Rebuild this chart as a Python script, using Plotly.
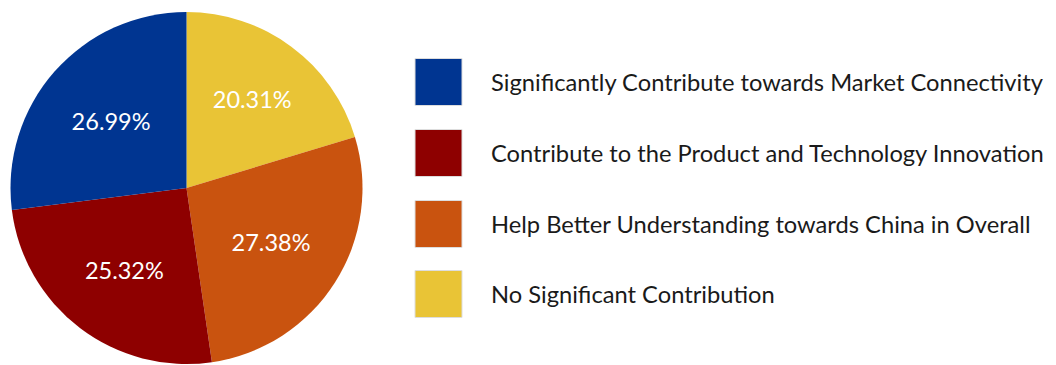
import plotly.graph_objects as go

# Survey responses: share of each perceived contribution
labels = [
    "Significantly Contribute towards Market Connectivity",
    "Contribute to the Product and Technology Innovation",
    "Help Better Understanding towards China in Overall",
    "No Significant Contribution",
]
shares = [26.99, 25.32, 27.38, 20.31]
colors = ["#003591", "#8E0000", "#C9530F", "#E9C436"]

W, H = 1056, 365
FONT = "Lato"

# Slices run clockwise from 12 o'clock, last category first, so the first
# category ends up just left of the top.
fig = go.Figure(
    go.Pie(
        labels=labels[::-1],
        values=shares[::-1],
        text=[f"{v:.2f}%" for v in shares[::-1]],
        textinfo="text",
        textposition="inside",
        insidetextorientation="horizontal",
        textfont=dict(family=FONT, size=23.5, color="white"),
        marker=dict(colors=colors[::-1], line=dict(width=0)),
        sort=False,
        direction="clockwise",
        rotation=0,
        hole=0,
        showlegend=False,
        domain=dict(x=[9 / W, 364 / W], y=[1 - 364 / H, 1 - 12 / H]),
    )
)

# Legend: large colour swatches with labels on the right
box = 47
x0 = 415
row_centers = [82, 153, 224, 294]
shapes = []
annotations = []
for lab, col, yc in zip(labels, colors, row_centers):
    shapes.append(
        dict(
            type="rect",
            xref="paper",
            yref="paper",
            x0=x0 / W,
            x1=(x0 + box) / W,
            y0=1 - (yc + box / 2) / H,
            y1=1 - (yc - box / 2) / H,
            fillcolor=col,
            line=dict(color="#DDDDDD", width=1),
        )
    )
    annotations.append(
        dict(
            text=lab,
            xref="paper",
            yref="paper",
            x=489 / W,
            y=1 - yc / H,
            xanchor="left",
            yanchor="middle",
            showarrow=False,
            font=dict(family=FONT, size=23.7, color="#1a1a1a"),
        )
    )

fig.update_layout(
    width=W,
    height=H,
    margin=dict(l=0, r=0, t=0, b=0),
    paper_bgcolor="white",
    plot_bgcolor="white",
    shapes=shapes,
    annotations=annotations,
)

fig.write_html("out.html")
